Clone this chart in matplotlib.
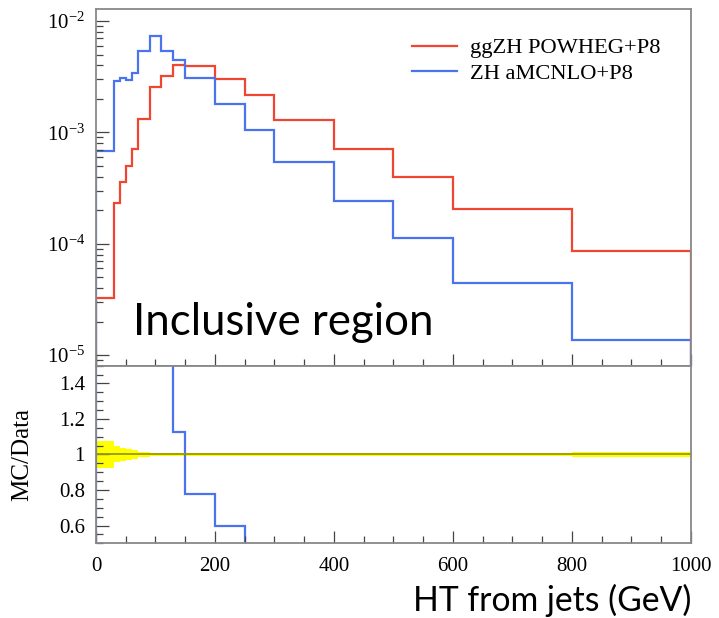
import numpy as np
import matplotlib
matplotlib.use('Agg')
import matplotlib.pyplot as plt
from matplotlib.ticker import MultipleLocator, LogLocator, NullFormatter, FixedLocator

# bin edges (GeV)
edges = [0, 30, 40, 50, 60, 70, 90, 110, 130, 150, 200, 250, 300, 400, 500, 600, 800, 1000]

# normalised distributions
ggzh_powheg = [3.29e-5, 2.33e-4, 3.62e-4, 5.04e-4, 7.05e-4, 1.33e-3, 2.57e-3, 3.2e-3,
               4.01e-3, 3.95e-3, 3.0e-3, 2.15e-3, 1.29e-3, 7.1e-4, 3.95e-4, 2.05e-4, 8.67e-5]
zh_amcnlo = [6.85e-4, 2.9e-3, 3.05e-3, 2.94e-3, 3.42e-3, 5.38e-3, 7.34e-3, 5.38e-3,
             4.51e-3, 3.07e-3, 1.79e-3, 1.06e-3, 5.47e-4, 2.40e-4, 1.13e-4, 4.45e-5, 1.36e-5]

# relative uncertainty of the reference (yellow band)
rel_err = [0.075, 0.045, 0.038, 0.030, 0.025, 0.014, 0.008, 0.007, 0.007, 0.006,
           0.006, 0.006, 0.006, 0.006, 0.007, 0.008, 0.012]

labels = ['ggZH POWHEG+P8', 'ZH aMCNLO+P8']
red = '#ef4631'
blue = '#4a74ee'

plt.rcParams['font.family'] = 'Liberation Serif'
plt.rcParams['mathtext.fontset'] = 'stix'

fig = plt.figure(figsize=(7.19, 6.18), dpi=100)
ax1 = fig.add_axes([0.1335, 0.4083, 0.8275, 0.5770])
ax2 = fig.add_axes([0.1335, 0.1209, 0.8275, 0.2874])

edges_a = np.array(edges)
red_a = np.array(ggzh_powheg)
blue_a = np.array(zh_amcnlo)

# upper panel
ax1.stairs(red_a, edges_a, color=red, lw=1.6, label=labels[0])
ax1.stairs(blue_a, edges_a, color=blue, lw=1.6, label=labels[1])
ax1.set_yscale('log')
ax1.set_xlim(0, 1000)
ax1.set_ylim(8.04e-6, 0.0128)
ax1.yaxis.set_major_locator(LogLocator(base=10, numticks=10))
ax1.yaxis.set_minor_locator(LogLocator(base=10, subs=np.arange(2, 10), numticks=20))
ax1.yaxis.set_minor_formatter(NullFormatter())
ax1.tick_params(labelbottom=False)

leg = ax1.legend(loc='upper left', bbox_to_anchor=(0.516, 0.945), frameon=False,
                 fontsize=16.2, handlelength=2.0, handletextpad=0.6, labelspacing=0.2,
                 borderaxespad=0)

ax1.text(0.062, 0.122, 'Inclusive region', transform=ax1.transAxes, fontsize=31.5,
         family='Lato', va='center', ha='left')

# lower panel: ratio
ratio = blue_a / red_a
band_lo = 1 - np.array(rel_err)
band_hi = 1 + np.array(rel_err)
ax2.stairs(band_hi, edges_a, baseline=band_lo, fill=True, color='#ffff00', lw=0)
ax2.axhline(1, color='#999900', lw=1.3)
ax2.stairs(ratio, edges_a, color=blue, lw=1.6)
ax2.set_xlim(0, 1000)
ax2.set_ylim(0.5, 1.5)
ax2.yaxis.set_major_locator(FixedLocator([0.6, 0.8, 1.0, 1.2, 1.4]))
ax2.yaxis.set_minor_locator(MultipleLocator(0.05))
ax2.set_yticklabels(['0.6', '0.8', '1', '1.2', '1.4'])
ax2.set_ylabel('MC/Data', fontsize=18)
ax2.yaxis.set_label_coords(-0.105, 0.5)

for ax in (ax1, ax2):
    ax.xaxis.set_major_locator(MultipleLocator(200))
    ax.xaxis.set_minor_locator(MultipleLocator(50))
    ax.tick_params(which='both', direction='in', top=False, right=False,
                   labelsize=15, color='#444444')
    ax.tick_params(which='major', length=9, width=0.9)
    ax.tick_params(which='minor', length=5, width=0.9)
    ax.tick_params(axis='y', pad=8)
    ax.tick_params(axis='x', pad=10)
    for s in ax.spines.values():
        s.set_color('#888888')
        s.set_linewidth(1.3)

fig.text(0.961, 0.029, 'HT from jets (GeV)', ha='right', va='center',
         fontsize=24.3, family='Lato')

fig.savefig('out.png', dpi=100)
